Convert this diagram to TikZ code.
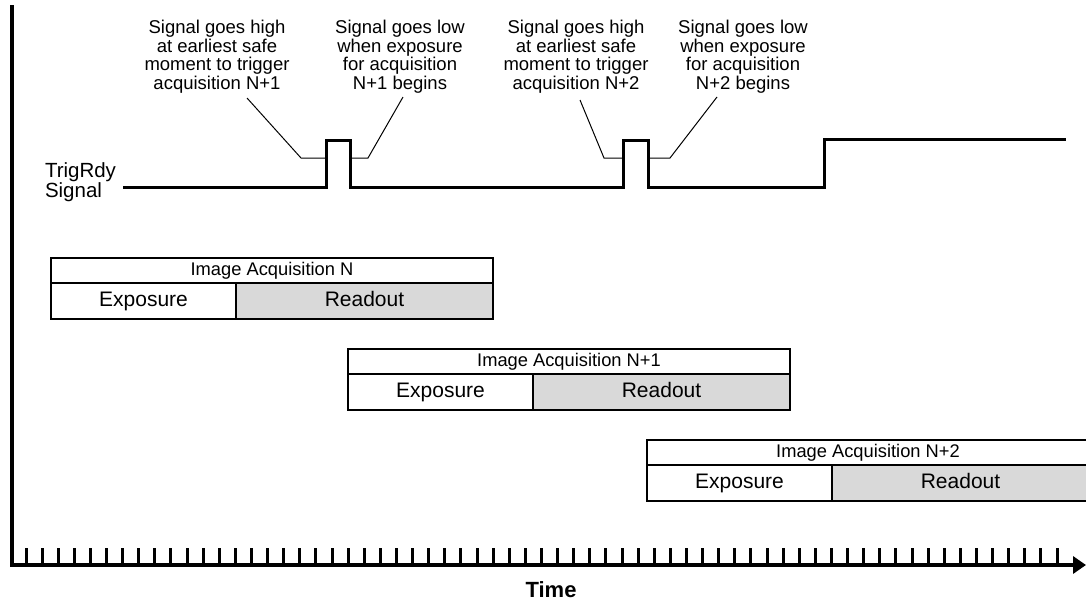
\documentclass[tikz,border=0pt]{standalone}
\usepackage{fontspec}
\setmainfont{Liberation Sans}
\usetikzlibrary{arrows.meta, positioning}
\definecolor{rdgray}{HTML}{D9D9D9}

\begin{document}
\begin{tikzpicture}[
  x=1pt, y=-1pt,
  every node/.style={inner sep=0pt, outer sep=0pt, text=black},
  note/.style={align=center, anchor=north, font=\fontsize{18.5}{18.7}\selectfont},
  acqtitle/.style={draw, line width=1.5pt, anchor=north west, minimum width=442pt, minimum height=25pt, text height=13pt, text depth=4pt, font=\fontsize{18.3}{20}\selectfont},
  expbox/.style={draw, line width=1.5pt, anchor=north west, minimum width=185pt, minimum height=36pt, text height=15pt, text depth=4.5pt, font=\fontsize{21}{24}\selectfont},
  readbox/.style={expbox, fill=rdgray, minimum width=257pt},
  sig/.style={line width=3pt, line join=miter},
  callout/.style={line width=1pt},
  axis/.style={line width=4pt},
  tick/.style={line width=3pt},
]

% Frame
\useasboundingbox (0,0) rectangle (1086,603);

% Axes and ticks
\coordinate (origin) at (12,565);
\foreach \i in {0,...,64}
  \draw[tick] ({26+16.11*\i},548) -- ({26+16.11*\i},565);
\draw[axis, -{Triangle[length=13pt, width=17pt]}] (12,5) -- (origin) -- (1086,565);
\node[font=\bfseries\fontsize{22}{24}\selectfont] (time) at (551,590) {Time};

% TrigRdy signal
\node[anchor=west, align=left, font=\fontsize{20.5}{19.5}\selectfont] (trigrdy) at (45,182) {TrigRdy\\Signal};
\draw[sig] (123,187) -- (326,187) -- (326,140) -- (350,140) -- (350,187)
  -- (623,187) -- (623,140) -- (648,140) -- (648,187)
  -- (824,187) -- (824,139) -- (1066,139);

% Edge points of the pulses
\coordinate (rise1) at (326,158);
\coordinate (fall1) at (350,158);
\coordinate (rise2) at (623,158);
\coordinate (fall2) at (648,158);

% Callouts
\node[note] (high1) at (217,20) {Signal goes high\\at earliest safe\\moment to trigger\\acquisition N+1};
\node[note] (low1) at (400,20) {Signal goes low\\when exposure\\for acquisition\\N+1 begins};
\node[note] (high2) at (576,20) {Signal goes high\\at earliest safe\\moment to trigger\\acquisition N+2};
\node[note] (low2) at (743,20) {Signal goes low\\when exposure\\for acquisition\\N+2 begins};

\coordinate (high1end) at (247,98);
\coordinate (low1end) at (403,97);
\coordinate (high2end) at (580,100);
\coordinate (low2end) at (717,97);

\draw[callout] (high1end) -- (301,158) -- (rise1);
\draw[callout] (fall1) -- (368,158) -- (low1end);
\draw[callout] (high2end) -- (604,158) -- (rise2);
\draw[callout] (fall2) -- (670,158) -- (low2end);

% Image acquisition N
\node[acqtitle] (acq0) at (51,258) {Image Acquisition N};
\node[expbox, below=0pt of acq0.south west, anchor=north west] (exp0) {Exposure};
\node[readbox, right=0pt of exp0.north east, anchor=north west] (read0) {Readout};

% Image acquisition N+1
\node[acqtitle] (acq1) at (348,349) {Image Acquisition N+1};
\node[expbox, below=0pt of acq1.south west, anchor=north west] (exp1) {Exposure};
\node[readbox, right=0pt of exp1.north east, anchor=north west] (read1) {Readout};

% Image acquisition N+2
\node[acqtitle] (acq2) at (647,440) {Image Acquisition N+2};
\node[expbox, below=0pt of acq2.south west, anchor=north west] (exp2) {Exposure};
\node[readbox, right=0pt of exp2.north east, anchor=north west] (read2) {Readout};

\end{tikzpicture}
\end{document}
